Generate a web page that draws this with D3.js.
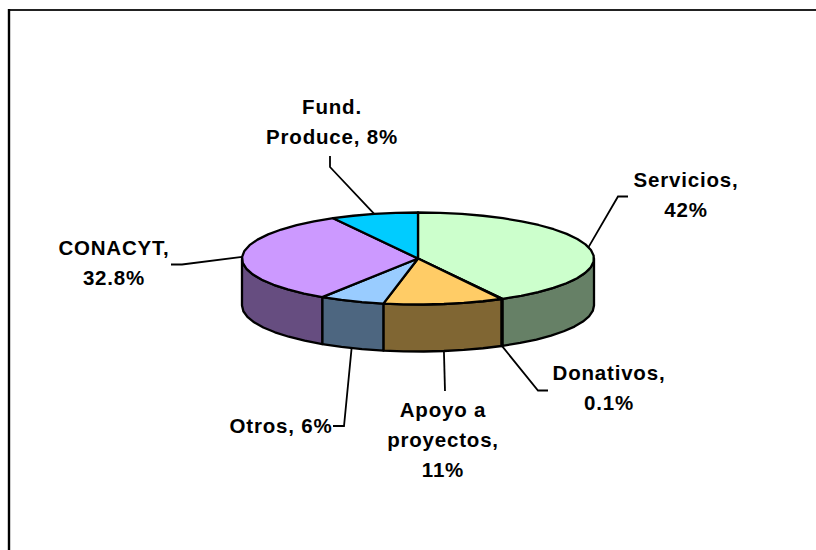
<!DOCTYPE html>
<html>
<head>
<meta charset="utf-8">
<script src="https://cdn.jsdelivr.net/npm/d3@7/dist/d3.min.js"></script>
<style>
html,body{margin:0;padding:0;background:#fff;overflow:hidden}
svg{display:block}
text{font-family:"Liberation Sans",Arial,sans-serif;font-weight:bold;font-size:20.5px;letter-spacing:0.8px;fill:#000;text-anchor:middle}
</style>
</head>
<body>
<svg id="chart" width="816" height="550"></svg>
<script>
// Data
const categories = ["Servicios", "Donativos", "Apoyo a proyectos", "Otros", "CONACYT", "Fund. Produce"];
const shares = [42, 0.1, 11, 6, 32.8, 8];
const shareLabels = ["42%", "0.1%", "11%", "6%", "32.8%", "8%"];
const topColors = ["#CCFFCC", "#FF99CC", "#FFCC66", "#99CCFF", "#CC99FF", "#00CCFF"];
const sideColors = ["#668066", "#804D66", "#806633", "#4D6680", "#664D80", "#006680"];

// Layout of the label text and leader elbows
const labelLines = [["Servicios,", "42%"], ["Donativos,", "0.1%"], ["Apoyo a", "proyectos,", "11%"], ["Otros, 6%"], ["CONACYT,", "32.8%"], ["Fund.", "Produce, 8%"]];
const labelCenterX = [686, 609, 443, 281, 114, 332];
const labelFirstBaseline = [187, 380, 417, 433, 255, 114];
const leaderElbows = [[[618,196.5],[628,196.5]], [[538,390.5],[548,390.5]], [[445,391]], [[344,426],[333,426]], [[182,264.5],[171,264.5]], [[330,167],[330,156]]];
const lineGap = 30;

const cx = 418, cy = 258.5, rx = 176, ry = 46, depth = 47;
const polyStep = Math.PI / 24;

const svg = d3.select("#chart");

// Chart frame: only the top and left edges show in the picture
svg.append("line").attr("x1", 9).attr("x2", 816).attr("y1", 10).attr("y2", 10).attr("stroke", "#222").attr("stroke-width", 2);
svg.append("line").attr("x1", 9).attr("x2", 9).attr("y1", 9).attr("y2", 550).attr("stroke", "#000").attr("stroke-width", 2.4);

const arcs = d3.pie().sort(null).value(d => d).startAngle(0).endAngle(2 * Math.PI)(shares);

const px = a => cx + rx * Math.sin(a);
const py = (a, dz = 0) => cy - ry * Math.cos(a) + dz;
const path = d3.line().curve(d3.curveLinear);

function rim(a0, a1, dz) {
  const n = Math.max(1, Math.ceil((a1 - a0) / polyStep));
  return d3.range(n + 1).map(i => {
    const a = a0 + (a1 - a0) * i / n;
    return [px(a), py(a, dz)];
  });
}

const front0 = Math.PI / 2, front1 = 3 * Math.PI / 2;
const outlineWidth = 2.3;

// Visible outer wall of each slice
arcs.forEach((d, i) => {
  const a0 = Math.max(d.startAngle, front0), a1 = Math.min(d.endAngle, front1);
  if (a1 <= a0) return;
  const pts = rim(a0, a1, 0).concat(rim(a0, a1, depth).reverse());
  svg.append("path").attr("d", path(pts) + "Z")
    .attr("fill", sideColors[i]).attr("stroke", "#000").attr("stroke-width", outlineWidth).attr("stroke-linejoin", "round");
});

// Top face of each slice
arcs.forEach((d, i) => {
  const pts = [[cx, cy]].concat(rim(d.startAngle, d.endAngle, 0));
  svg.append("path").attr("d", path(pts) + "Z")
    .attr("fill", topColors[i]).attr("stroke", "#000").attr("stroke-width", outlineWidth).attr("stroke-linejoin", "round");
});

// Leader lines, starting from each slice's mid angle on the rim
arcs.forEach((d, i) => {
  const mid = (d.startAngle + d.endAngle) / 2;
  const onFront = mid > front0 && mid < front1;
  const anchor = [px(mid), py(mid, onFront ? depth : 0)];
  svg.append("path").attr("d", path([anchor].concat(leaderElbows[i])))
    .attr("fill", "none").attr("stroke", "#000").attr("stroke-width", 1.8);
});

// Labels
categories.forEach((c, i) => {
  const t = svg.append("text").attr("aria-label", c + ", " + shareLabels[i]);
  labelLines[i].forEach((s, j) => {
    t.append("tspan").attr("x", labelCenterX[i]).attr("y", labelFirstBaseline[i] + j * lineGap).text(s);
  });
});
</script>
</body>
</html>
